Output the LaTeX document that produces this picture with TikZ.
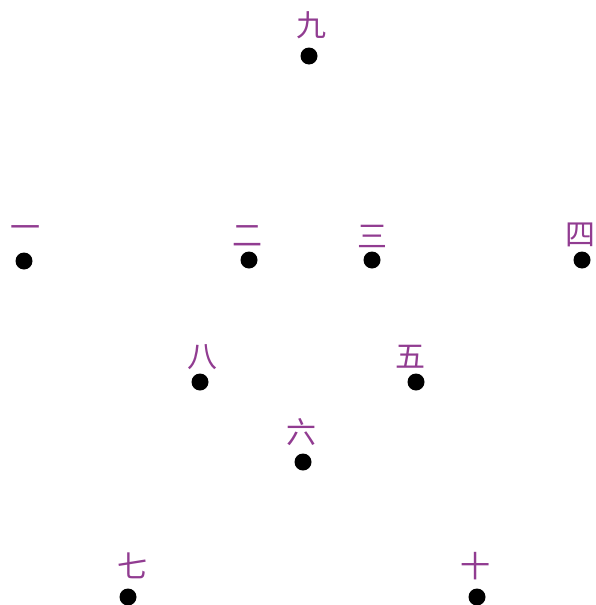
\documentclass[tikz,border=0pt]{standalone}
\usepackage{fontspec}
\newfontfamily\cjk{Noto Sans CJK SC}
\definecolor{lab}{RGB}{145,60,145}
\tikzset{
  dot/.style={circle,fill=black,inner sep=0pt,minimum size=17pt},
  lbl/.style={text=lab,font=\cjk\fontsize{30}{30}\selectfont,inner sep=0pt}
}
\begin{document}
\begin{tikzpicture}[x=1pt,y=-1pt]
\useasboundingbox (0,0) rectangle (595,605);
\node[dot] (d9) at (309,56) {};
\node[dot] (d1) at (24,261) {};
\node[dot] (d2) at (249,260) {};
\node[dot] (d3) at (372,260) {};
\node[dot] (d4) at (582,260) {};
\node[dot] (d8) at (200,382) {};
\node[dot] (d5) at (416,382) {};
\node[dot] (d6) at (303,462) {};
\node[dot] (d7) at (128,597) {};
\node[dot] (d10) at (477,597) {};
\node[lbl] (l9) at (311,25) {九};
\node[lbl] (l1) at (25,232) {一};
\node[lbl] (l2) at (247,236) {二};
\node[lbl] (l3) at (372,236) {三};
\node[lbl] (l4) at (580,235) {四};
\node[lbl] (l8) at (202,357) {八};
\node[lbl] (l5) at (410,357) {五};
\node[lbl] (l6) at (301,432) {六};
\node[lbl] (l7) at (132,566) {七};
\node[lbl] (l10) at (475,566) {十};
\end{tikzpicture}
\end{document}
